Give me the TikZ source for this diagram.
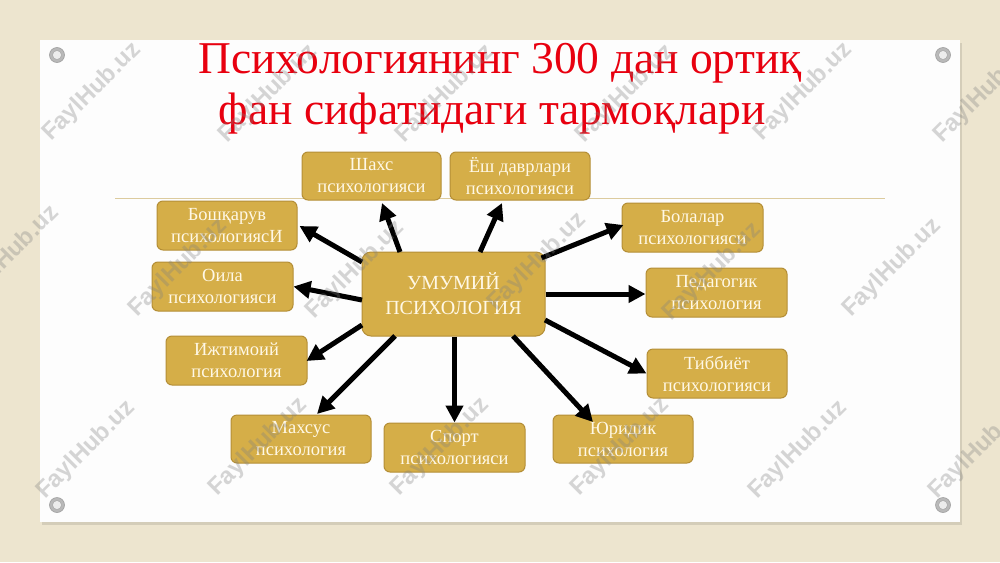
\documentclass[tikz,border=0pt]{standalone}
\usepackage{fontspec}
\setmainfont{Liberation Serif}
\newfontfamily\wmfont{Liberation Sans}
\usetikzlibrary{arrows.meta,calc}
\definecolor{bgbeige}{HTML}{EDE5CF}
\definecolor{titlered}{HTML}{E8000F}
\definecolor{boxgold}{HTML}{D5AE48}
\definecolor{boxedge}{HTML}{B48E36}
\definecolor{boxtext}{HTML}{FFF8E6}
\definecolor{rulecol}{HTML}{DCCB9E}
\definecolor{slidewhite}{HTML}{FDFDFD}
\tikzset{
  gbox/.style={draw=boxedge, line width=1pt, fill=boxgold, rounded corners=6pt,
    text=boxtext, font=\fontsize{18.5}{22}\selectfont, align=center,
    minimum width=140pt, minimum height=48pt, inner sep=0pt},
  bigarrow/.style={line width=5pt, -{Triangle[length=17pt,width=17pt]}},
  watermark/.style={font=\wmfont\bfseries\fontsize{24}{24}\selectfont, text=gray, opacity=0.32, rotate=45},
  screw/.style={fill=gray!55, draw=gray!75, line width=0.6pt},
  titletext/.style={text=titlered, font=\fontsize{45.5}{50}\selectfont, anchor=base, inner sep=0pt}
}
\begin{document}
\begin{tikzpicture}[x=1pt,y=-1pt]
\useasboundingbox (0,0) rectangle (1000,562);
\fill[bgbeige] (0,0) rectangle (1000,562);
% slide with shadow
\fill[black,opacity=0.10] (42,43) rectangle (962,525);
\fill[slidewhite] (40,40) rectangle (960,522);
% screws
\foreach \sx/\sy in {57/55, 943/55, 57/505, 943/505}{
  \fill[screw] (\sx,\sy) circle (7.5);
  \fill[gray!15, draw=gray!70, line width=0.5pt] (\sx,\sy) circle (4.5);
}
% title
\node[titletext] (t1) at (500,73) {Психологиянинг 300 дан ортиқ};
\node[titletext] (t2) at (492,124) {фан сифатидаги тармоқлари};
% rule
\coordinate (rl) at (115,198);
\coordinate (rr) at (885,198);
\draw[rulecol, line width=1pt] (rl) -- (rr);
% boxes
\node[gbox, minimum width=139pt] (shaxs) at (371.5,176) {Шахс\\психологияси};
\node[gbox] (yosh) at (520,176) {Ёш даврлари\\психологияси};
\node[gbox, minimum height=49pt] (boshq) at (227,225.5) {Бошқарув\\психологиясИ};
\node[gbox, minimum width=141pt, minimum height=49pt] (oila) at (222.5,286.5) {Оила\\психологияси};
\node[gbox, minimum width=141pt, minimum height=49pt] (ijt) at (236.5,360.5) {Ижтимоий\\психология};
\node[gbox, minimum width=183pt, minimum height=84pt, rounded corners=9pt,
  font=\fontsize{20}{25}\selectfont] (c) at (453.5,294) {УМУМИЙ\\ПСИХОЛОГИЯ};
\node[gbox, minimum width=141pt, minimum height=49pt] (bolalar) at (692.5,227.5) {Болалар\\психологияси};
\node[gbox, minimum width=141pt, minimum height=49pt] (ped) at (716.5,292.5) {Педагогик\\психология};
\node[gbox, minimum height=49pt] (tib) at (717,373.5) {Тиббиёт\\психологияси};
\node[gbox] (mahsus) at (301,439) {Махсус\\психология};
\node[gbox, minimum width=141pt, minimum height=49pt] (sport) at (454.5,447.5) {Спорт\\психологияси};
\node[gbox] (yurid) at (623,439) {Юридик\\психология};
% arrows
\draw[bigarrow] ($(c.center)+(-53.5,-42)$) -- ($(shaxs.center)+(10.5,27)$);
\draw[bigarrow] ($(c.center)+(26.5,-42)$) -- ($(yosh.center)+(-18,27)$);
\draw[bigarrow] ($(c.center)+(-91.5,-32)$) -- ($(boshq.east)+(2,0.5)$);
\draw[bigarrow] ($(c.center)+(-91.5,6)$) -- (oila.east);
\draw[bigarrow] ($(c.center)+(-91.5,31)$) -- ($(ijt.east)+(-1,0.5)$);
\draw[bigarrow] ($(c.center)+(-58.5,42)$) -- ($(mahsus.center)+(16,-25)$);
\draw[bigarrow] (c.south -| sport.north) -- (sport.north);
\draw[bigarrow] ($(c.center)+(59.5,42)$) -- ($(yurid.center)+(-30,-17)$);
\draw[bigarrow] ($(c.center)+(91.5,26)$) -- (tib.west);
\draw[bigarrow] (c.east) -- (c.east -| ped.west);
\draw[bigarrow] ($(c.center)+(88,-36)$) -- ($(bolalar.west)+(2,-2.5)$);
% watermarks
\foreach \wx/\wy in {92/92, 268/94, 445/94, 625/94, 803/92, 983/94,
                     10/255, 178/268, 355/270, 537/262, 712/272, 892/268,
                     86/450, 258/447, 440/447, 620/447, 798/450, 978/450}{
  \node[watermark] at (\wx,\wy) {FaylHub.uz};
}
\end{tikzpicture}
\end{document}
